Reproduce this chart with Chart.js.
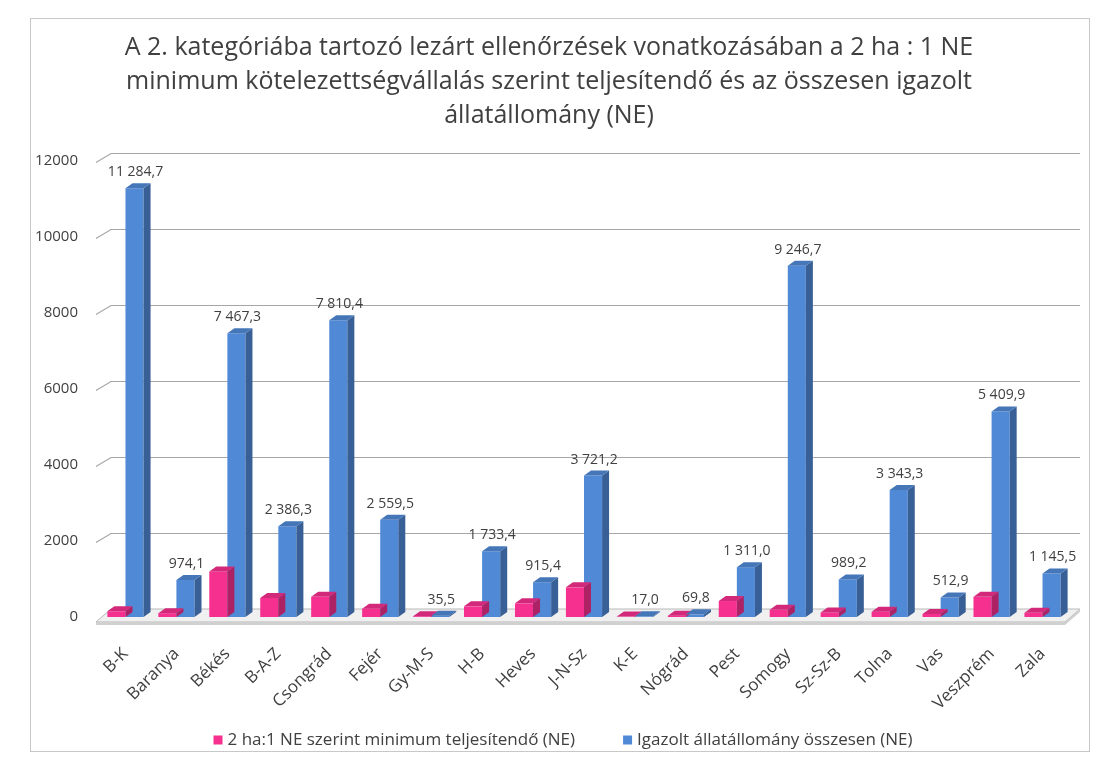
<!DOCTYPE html>
<html><head><meta charset="utf-8">
<script src="https://cdn.jsdelivr.net/npm/chart.js@4.4.0/dist/chart.umd.min.js"></script>
<style>
html,body{margin:0;padding:0;background:#fff;}
#box{position:absolute;left:30px;top:18px;width:1060px;height:734px;border:1px solid #c8c8c8;box-sizing:border-box;}
#c{position:absolute;left:0;top:0;display:block;}
</style></head>
<body>
<div id="box"></div>
<canvas id="c" width="1107" height="765"></canvas>
<script>
const categories = ["B-K","Baranya","Békés","B-A-Z","Csongrád","Fejér","Gy-M-S","H-B","Heves","J-N-Sz","K-E","Nógrád","Pest","Somogy","Sz-Sz-B","Tolna","Vas","Veszprém","Zala"];
const minimumValues = [150, 100, 1200, 500, 530, 220, 20, 280, 360, 780, 10, 35, 420, 190, 120, 140, 80, 530, 110];
const igazoltValues = [11284.7, 974.1, 7467.3, 2386.3, 7810.4, 2559.5, 35.5, 1733.4, 915.4, 3721.2, 17.0, 69.8, 1311.0, 9246.7, 989.2, 3343.3, 512.9, 5409.9, 1145.5];
const yTicks = [0, 2000, 4000, 6000, 8000, 10000, 12000];
const seriesNames = ["2 ha:1 NE szerint minimum teljesítendő (NE)", "Igazolt állatállomány összesen (NE)"];
const seriesColors = ["#F5308F", "#5089D6"];

const FONT = "'Open Sans', Lato, 'Liberation Sans', sans-serif";
const DX = 7, DY = 5;      // bar depth
const WX = 15, WY = 9;     // wall offset

function fmt(v){
  const s = v.toFixed(1).split('.');
  const int = s[0].replace(/\B(?=(\d{3})+(?!\d))/g, ' ');
  return int + ',' + s[1];
}
function shade(hex, f){
  const n = parseInt(hex.slice(1),16);
  let r=(n>>16)&255,g=(n>>8)&255,b=n&255;
  r=Math.round(r*f);g=Math.round(g*f);b=Math.round(b*f);
  return `rgb(${Math.min(255,r)},${Math.min(255,g)},${Math.min(255,b)})`;
}

const threeD = {
  id:'threeD',
  beforeDatasetsDraw(chart){
    const ctx = chart.ctx, a = chart.chartArea, ys = chart.scales.y, y0 = ys.getPixelForValue(0);
    ctx.save();
    ctx.strokeStyle = '#a6a6a6'; ctx.lineWidth = 1.2;
    yTicks.forEach(t=>{
      if (t === 0) return;
      const y = Math.round(ys.getPixelForValue(t)) + 0.5;
      ctx.beginPath();
      ctx.moveTo(a.left-4, y+1); ctx.lineTo(a.left-4+WX, y-WY+1); ctx.lineTo(a.right+WX-3, y-WY+1);
      ctx.stroke();
    });
    ctx.fillStyle = '#f0f0f0'; ctx.strokeStyle = '#b8b8b8'; ctx.lineWidth = 1;
    ctx.beginPath();
    ctx.moveTo(a.left-4+WX, y0-WY+1); ctx.lineTo(a.right+WX-3, y0-WY+1);
    ctx.lineTo(a.right-3, y0+5); ctx.lineTo(a.left-4, y0+5); ctx.closePath();
    ctx.fill(); ctx.stroke();
    ctx.fillStyle = '#d0d0d0';
    ctx.beginPath();
    ctx.moveTo(a.left-4, y0+5); ctx.lineTo(a.right-3, y0+5); ctx.lineTo(a.right+WX-3, y0-WY+1);
    ctx.lineTo(a.right+WX-3, y0-WY+4); ctx.lineTo(a.right-3, y0+8); ctx.lineTo(a.left-4, y0+8); ctx.closePath();
    ctx.fill();
    ctx.restore();
  },
  afterDatasetsDraw(chart){
    const ctx = chart.ctx;
    ctx.save();
    chart.data.datasets.forEach((ds, di)=>{
      const meta = chart.getDatasetMeta(di);
      meta.data.forEach(bar=>{
        const l = bar.x - bar.width/2, r = bar.x + bar.width/2, t = bar.y, b = bar.base;
        ctx.fillStyle = shade(ds.backgroundColor, 0.70);
        ctx.beginPath(); ctx.moveTo(r,t); ctx.lineTo(r+DX,t-DY); ctx.lineTo(r+DX,b-DY); ctx.lineTo(r,b); ctx.closePath(); ctx.fill();
        ctx.fillStyle = shade(ds.backgroundColor, 0.86);
        ctx.beginPath(); ctx.moveTo(l,t); ctx.lineTo(l+DX,t-DY); ctx.lineTo(r+DX,t-DY); ctx.lineTo(r,t); ctx.closePath(); ctx.fill();
      });
    });
    const meta = chart.getDatasetMeta(1);
    ctx.fillStyle = '#404040'; ctx.font = '14px ' + FONT; ctx.textAlign = 'center'; ctx.textBaseline = 'bottom';
    meta.data.forEach((bar,i)=>{
      ctx.fillText(fmt(igazoltValues[i]), bar.x + 1, bar.y - DY - 4);
    });
    ctx.restore();
  },
  afterDraw(chart){
    // legend
    const ctx = chart.ctx;
    ctx.save();
    ctx.font = '17px ' + FONT; ctx.textBaseline = 'middle'; ctx.textAlign = 'left';
    const box = 9, gapBox = 5, gapItem = 48, cy = 740;
    const widths = seriesNames.map(n => box + gapBox + ctx.measureText(n).width);
    const total = widths[0] + widths[1] + gapItem;
    let x = 563 - total/2;
    seriesNames.forEach((n,i)=>{
      ctx.fillStyle = seriesColors[i];
      ctx.fillRect(x, cy - box/2, box, box);
      ctx.fillStyle = '#404040';
      ctx.fillText(n, x + box + gapBox, cy);
      x += widths[i] + gapItem;
    });
    ctx.restore();
  }
};

new Chart(document.getElementById('c'), {
  type:'bar',
  data:{
    labels: categories,
    datasets:[
      {label: seriesNames[0], data: minimumValues, backgroundColor:seriesColors[0], borderWidth:0},
      {label: seriesNames[1], data: igazoltValues, backgroundColor:seriesColors[1], borderWidth:0}
    ]
  },
  options:{
    responsive:false, animation:false,
    layout:{padding:{left:30,right:39,top:31,bottom:43}},
    datasets:{bar:{categoryPercentage:0.71, barPercentage:1.0}},
    plugins:{
      title:{display:true, text:[
        "A 2. kategóriába tartozó lezárt ellenőrzések vonatkozásában a 2 ha : 1 NE",
        "minimum kötelezettségvállalás szerint teljesítendő és az összesen igazolt",
        "állatállomány (NE)"], font:{family:FONT, size:25, weight:'normal', lineHeight:'34px'}, color:'#404040', padding:{top:0,bottom:28}},
      legend:{display:false},
      tooltip:{enabled:false}
    },
    scales:{
      x:{grid:{display:false, drawTicks:false}, border:{display:false},
         ticks:{font:{family:FONT,size:17}, color:'#404040', maxRotation:45, minRotation:45, padding:27},
         afterFit(s){ s.height = 105; }},
      y:{min:0, max:12000, afterBuildTicks(s){ s.ticks = yTicks.map(v=>({value:v})); },
         grid:{display:false, drawTicks:false}, border:{display:false},
         ticks:{font:{family:FONT,size:15}, color:'#404040', padding:22, callback:v=>String(v)},
         afterFit(s){ s.width = 70; }}
    }
  },
  plugins:[threeD]
});
</script>
</body></html>
